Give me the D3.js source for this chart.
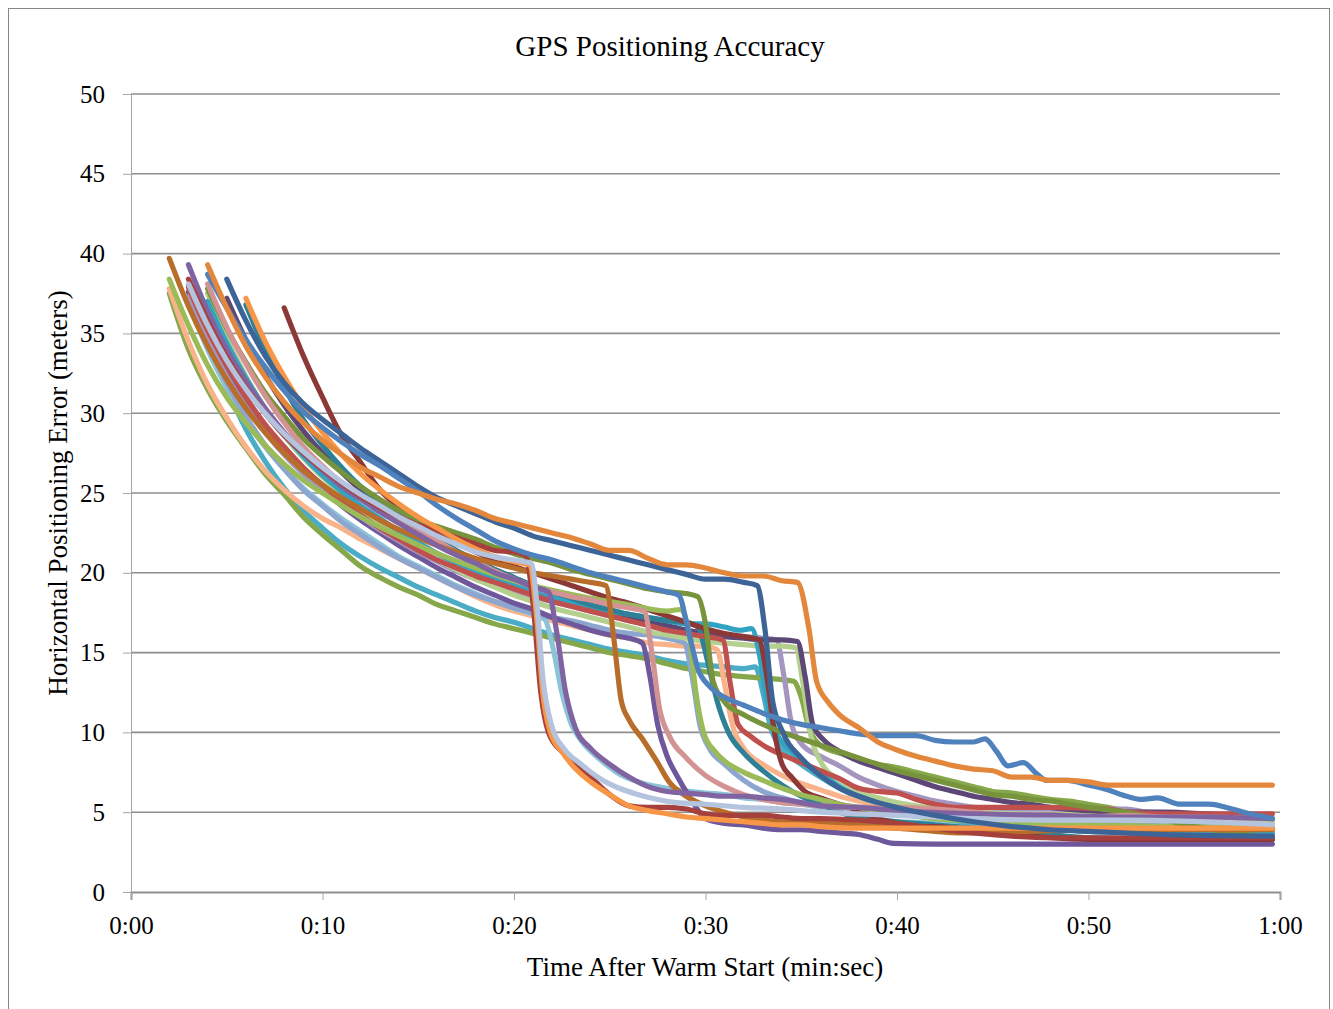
<!DOCTYPE html>
<html>
<head>
<meta charset="utf-8">
<script src="https://cdn.jsdelivr.net/npm/d3@7"></script>
<style>
  html, body { margin: 0; padding: 0; background: #ffffff; }
  svg { display: block; }
  text { font-family: "Liberation Serif", "Times New Roman", serif; fill: #000; }
</style>
</head>
<body>
<svg id="chart" width="1333" height="1009"></svg>
<script>
// Horizontal error (m) against seconds after a warm start, one array per test run: [seconds, meters]
const run01 = [[4,39.3],[5,36.6],[6,34.2],[7,32.3],[8,30.7],[9,29.4],[10,28.3],[11,27.4],[12,26.6],[13,26.0],[14,25.4],[15,25.0],[16,24.6],[17,24.3],[18,23.9],[19,23.4],[20,23.1],[21,22.8],[22,22.5],[23,22.2],[24,21.8],[25,21.4],[26,21.4],[27,20.9],[28,20.5],[29,20.5],[30,20.3],[31,20.0],[32,19.8],[33,19.8],[34,19.5],[34.8,19.4],[35.4,16.5],[35.8,13.2],[36.4,11.9],[37,11.1],[38,10.3],[39,9.4],[40,8.9],[41,8.5],[42,8.2],[43,7.9],[44,7.7],[45,7.6],[46,7.2],[47,7.2],[48,7.0],[49,7.0],[50,6.9],[51,6.7],[52,6.7],[56,6.7],[59.6,6.7]];
const run02 = [[5,38.4],[6,35.8],[7,33.6],[8,31.9],[9,30.6],[10,29.6],[11,28.7],[12,27.8],[13,27.0],[14,26.2],[15,25.4],[16,24.7],[17,24.2],[18,23.7],[19,23.2],[20,22.8],[21,22.3],[22,22.0],[23,21.7],[24,21.4],[25,21.1],[26,20.8],[27,20.5],[28,20.2],[29,19.9],[30,19.6],[31,19.6],[32,19.4],[32.7,19.2],[33.1,16.5],[33.5,12.0],[34,10.1],[35,8.4],[36,7.3],[37,6.5],[38,6.0],[39,5.6],[40,5.3],[42,4.8],[44,4.4],[46,4.1],[48,3.9],[50,3.8],[54,3.6],[59.6,3.5]];
const run03 = [[4,38.7],[5,36.6],[6,34.6],[7,32.9],[8,31.4],[9,30.1],[10,29.1],[11,28.2],[12,27.4],[13,26.7],[14,25.9],[15,25.1],[16,24.2],[17,23.4],[18,22.7],[19,22.0],[20,21.5],[21,21.1],[22,20.8],[23,20.4],[24,20.0],[25,19.7],[26,19.4],[27,19.1],[28,18.8],[28.6,18.6],[29.1,16.4],[29.6,14.0],[30.2,12.9],[31,12.2],[32,11.7],[33,11.2],[34,10.8],[35,10.5],[36,10.3],[37,10.1],[38,9.9],[39,9.8],[40,9.8],[41,9.8],[42,9.5],[43,9.4],[44,9.4],[44.6,9.6],[45.2,8.8],[45.8,7.9],[46.6,8.1],[47.3,7.4],[47.8,7.0],[48.9,7.0],[50,6.7],[51,6.4],[52,6.0],[52.8,5.8],[53.6,5.9],[54.8,5.5],[56.3,5.5],[57.2,5.3],[58.1,5.0],[59.6,4.6]];
const run04 = [[4,37.8],[5,35.3],[6,33.2],[7,31.3],[8,29.8],[9,28.4],[10,27.3],[11,26.3],[12,25.4],[13,24.6],[14,23.9],[15,23.3],[16,22.9],[17,22.5],[18,22.1],[19,21.6],[20,21.2],[21,20.9],[22,20.6],[23,20.2],[24,19.9],[25,19.6],[26,19.3],[27,19.0],[28,18.8],[29,18.7],[29.6,18.5],[30,16.8],[30.4,13.2],[31,11.9],[32,11.1],[33,10.5],[34,10.0],[35,9.6],[36,9.2],[37,8.8],[38,8.4],[39,8.0],[40,7.6],[41,7.3],[42,7.0],[43,6.7],[44,6.4],[45,6.1],[46,6.0],[47,5.8],[48,5.7],[49,5.5],[50,5.3],[52,5.0],[54,4.5],[56,4.0],[59.6,3.4]];
const run05 = [[2,38.4],[3,35.5],[4,33.0],[5,31.0],[6,29.4],[7,28.0],[8,26.8],[9,25.8],[10,25.0],[12,23.5],[14,22.3],[16,21.2],[18,20.3],[20,19.5],[22,18.9],[24,18.4],[26,18.0],[28,17.6],[28.7,17.7],[29.1,16.5],[29.5,12.5],[29.9,10.0],[30.5,8.8],[31,8.2],[32,7.5],[33,7.0],[34,6.5],[35,6.1],[36,5.8],[37,5.5],[38,5.3],[40,4.9],[42,4.6],[45,4.4],[50,4.2],[55,4.1],[59.6,4.0]];
const run06 = [[2,37.5],[3,34.0],[4,31.5],[5,29.5],[6,27.8],[7,26.2],[8,24.9],[9,23.5],[10,22.4],[11,21.4],[12,20.4],[13,19.7],[14,19.1],[15,18.6],[16,18.0],[17,17.6],[18,17.2],[19,16.8],[20,16.5],[21,16.2],[22,15.9],[23,15.6],[24,15.3],[25,15.0],[26,14.8],[27,14.6],[28,14.3],[29,14.0],[30,13.8],[31,13.6],[32,13.5],[33,13.4],[34,13.3],[34.6,13.2],[35,12.2],[35.4,10.3],[36,9.2],[37,8.7],[38,8.3],[39,8.0],[40,7.8],[41,7.5],[42,7.2],[43,6.9],[44,6.6],[45,6.3],[46,6.2],[47,6.0],[48,5.8],[49,5.7],[50,5.5],[51,5.3],[52,5.1],[54,4.8],[56,4.6],[59.6,4.3]];
const run07 = [[6,37.2],[7,34.5],[8,32.3],[9,30.4],[10,28.8],[11,27.4],[12,26.2],[13,25.2],[14,24.3],[15,23.5],[16,22.8],[17,22.1],[18,21.5],[19,21.0],[20,20.7],[20.8,20.5],[21.2,17.0],[21.5,12.5],[21.9,10.0],[22.5,8.8],[23,8.0],[24,6.9],[25,6.1],[26,5.4],[27,5.1],[28,4.9],[29,4.7],[30,4.6],[31,4.5],[32,4.4],[33,4.3],[34,4.2],[35,4.2],[36,4.1],[38,4.0],[40,4.0],[45,4.0],[50,4.0],[55,4.0],[59.6,4.0]];
const run08 = [[3,38.4],[4,35.8],[5,33.5],[6,31.6],[7,30.0],[8,28.6],[9,27.5],[10,26.5],[11,25.6],[12,24.8],[13,24.1],[14,23.5],[15,23.0],[16,22.6],[17,22.2],[18,21.8],[19,21.4],[20,21.3],[20.6,21.1],[21.0,18.0],[21.4,12.5],[21.8,10.0],[22.5,8.8],[23,8.3],[24,7.2],[25,6.1],[26,5.4],[27,5.3],[28,5.3],[29,5.2],[30,4.9],[31,4.8],[32,4.8],[33,4.8],[34,4.7],[35,4.6],[36,4.6],[38,4.5],[40,4.3],[42,4.0],[44,3.7],[46,3.5],[48,3.4],[50,3.4],[55,3.4],[59.6,3.4]];
const run09 = [[3,38.1],[4,35.5],[5,33.3],[6,31.5],[7,30.0],[8,28.7],[9,27.6],[10,26.6],[11,25.7],[12,24.9],[13,24.2],[14,23.5],[15,22.9],[16,22.3],[17,21.8],[18,21.3],[19,21.0],[20,20.8],[20.9,20.6],[21.2,18.0],[21.5,13.5],[22,10.3],[22.6,9.0],[23.5,8.0],[24.5,7.1],[25.5,6.5],[26.5,6.1],[27.5,5.8],[28.5,5.6],[30,5.5],[32,5.3],[34,5.2],[36,5.0],[38,4.9],[40,4.8],[44,4.6],[48,4.5],[52,4.5],[56,4.4],[59.6,4.2]];
const run10 = [[3,37.0],[4,34.0],[5,31.6],[6,29.6],[7,27.9],[8,26.5],[9,25.3],[10,24.3],[11,23.4],[12,22.6],[13,21.8],[14,21.0],[15,20.4],[16,19.8],[17,19.2],[18,18.7],[19,18.2],[20,17.8],[21,17.4],[21.6,17.1],[22,15.5],[22.5,12.5],[23,10.5],[23.5,9.5],[24.5,8.3],[25.5,7.4],[26.5,6.9],[27.5,6.6],[28.5,6.4],[30,6.2],[31,6.1],[32,5.9],[33,5.8],[34,5.6],[35,5.5],[36,5.3],[37,5.0],[38,4.6],[39,4.4],[40,4.4],[42,4.3],[44,4.0],[46,3.9],[50,3.9],[55,3.9],[59.6,3.9]];
const run11 = [[3,39.3],[4,36.4],[5,34.0],[6,32.0],[7,30.3],[8,28.8],[9,27.5],[10,26.4],[11,25.4],[12,24.6],[13,23.8],[14,23.1],[15,22.4],[16,21.7],[17,21.1],[18,20.6],[19,20.0],[20,19.6],[21,19.1],[21.8,18.8],[22.2,16.5],[22.7,12.5],[23.2,10.3],[24,9.0],[25,8.0],[26,7.2],[27,6.6],[28,6.3],[29,6.2],[30,6.1],[31,6.0],[32,6.0],[33,5.9],[34,5.8],[35,5.6],[36,5.4],[38,5.3],[40,5.1],[44,4.9],[48,4.8],[52,4.7],[56,4.7],[59.6,4.6]];
const run12 = [[2,39.7],[3,36.7],[4,34.2],[5,32.1],[6,30.3],[7,28.8],[8,27.5],[9,26.4],[10,25.5],[11,24.7],[12,24.0],[13,23.3],[14,22.7],[15,22.2],[16,21.7],[17,21.3],[18,20.9],[19,20.6],[20,20.3],[21,20.0],[22,19.8],[23,19.6],[24,19.4],[24.8,19.2],[25.2,16.0],[25.6,12.0],[26,10.8],[26.7,9.6],[27.5,8.1],[28.1,6.9],[29,6.0],[30,5.4],[31,5.0],[32,4.7],[33,4.5],[34,4.4],[36,4.3],[38,4.2],[40,4.0],[42,3.8],[43.3,3.7],[45,3.7],[47,3.8],[50,3.9],[55,3.9],[59.6,3.9]];
const run13 = [[4,38.1],[5,35.4],[6,33.1],[7,31.1],[8,29.4],[9,27.9],[10,26.7],[11,25.6],[12,24.7],[13,24.0],[14,23.4],[15,22.7],[16,22.0],[17,21.3],[18,20.7],[19,20.1],[20,19.6],[21,19.1],[22,18.8],[23,18.5],[24,18.3],[25,18.0],[26,17.8],[26.8,17.6],[27.2,15.0],[27.6,11.5],[28.1,9.8],[29,8.4],[30,7.3],[31,6.6],[32,6.1],[33,5.8],[34,5.6],[35,5.5],[36,5.4],[38,5.3],[40,5.3],[42,5.2],[44,5.0],[46,4.8],[48,4.8],[50,4.7],[52,4.8],[54,4.7],[56,4.7],[59.6,4.6]];
const run14 = [[3,37.6],[4,35.0],[5,32.8],[6,30.8],[7,29.1],[8,27.6],[9,26.3],[10,25.2],[11,24.2],[12,23.3],[13,22.5],[14,21.7],[15,21.0],[16,20.3],[17,19.7],[18,19.1],[19,18.6],[20,18.1],[21,17.7],[22,17.2],[23,16.8],[24,16.4],[25,16.1],[26,15.9],[26.7,15.6],[27.1,13.5],[27.5,10.5],[28,8.5],[28.5,7.3],[29.2,5.9],[30,4.6],[31,4.3],[32,4.2],[33,4.0],[34,3.9],[35,3.9],[36,3.8],[37,3.7],[38,3.6],[39,3.3],[39.8,3.05],[42,3.0],[50,3.0],[59.6,3.0]];
const run15 = [[3,37.6],[4,34.5],[5,31.9],[6,29.8],[7,28.0],[8,26.5],[9,25.2],[10,24.2],[11,23.2],[12,22.4],[13,21.6],[14,20.9],[15,20.3],[16,19.7],[17,19.1],[18,18.6],[19,18.2],[20,17.8],[21,17.5],[22,17.2],[23,17.0],[24,16.7],[25,16.4],[26,16.2],[27,16.1],[28,15.9],[28.9,15.6],[29.3,13.5],[29.7,10.5],[30.2,9.0],[31,8.0],[32,7.0],[33,6.3],[34,5.9],[35,5.6],[36,5.4],[38,5.2],[40,5.0],[44,4.6],[48,4.4],[52,4.2],[56,4.1],[59.6,4.0]];
const run16 = [[6,36.8],[7,34.0],[8,31.6],[9,29.6],[10,28.0],[11,26.6],[12,25.4],[13,24.4],[14,23.6],[15,22.8],[16,22.1],[17,21.4],[18,20.8],[19,20.2],[20,19.7],[21,19.2],[22,18.8],[23,18.4],[24,18.0],[25,17.7],[26,17.4],[27,17.2],[28,17.0],[29,16.9],[29.6,16.6],[30.1,14.5],[30.6,12.0],[31.2,10.0],[32,8.7],[33,7.6],[34,6.7],[35,6.0],[36,5.5],[37,5.0],[38,4.7],[40,4.4],[42,4.2],[44,4.0],[46,3.8],[48,3.6],[50,3.4],[55,3.3],[59.6,3.3]];
const run17 = [[3,37.9],[4,35.2],[5,33.0],[6,31.0],[7,29.3],[8,27.9],[9,26.6],[10,25.5],[11,24.5],[12,23.6],[13,22.8],[14,22.1],[15,21.4],[16,20.8],[17,20.3],[18,19.8],[19,19.4],[20,19.0],[21,18.6],[22,18.2],[23,17.9],[24,17.6],[25,17.3],[26,17.0],[27,16.7],[28,16.4],[29,16.2],[30,16.0],[30.9,15.8],[31.3,13.0],[31.7,10.5],[32.3,9.8],[33,9.2],[34,8.6],[35,8.1],[36,7.6],[37,7.1],[38,6.5],[39,6.3],[40,6.2],[41,5.8],[42,5.5],[43,5.3],[45,5.3],[48,5.3],[51,5.2],[52,5.0],[54,4.9],[59.6,4.9]];
const run18 = [[2,37.8],[3,34.5],[4,31.8],[5,29.7],[6,27.9],[7,26.4],[8,25.2],[9,24.2],[10,23.4],[11,22.8],[12,22.1],[13,21.5],[14,20.9],[15,20.3],[16,19.7],[17,19.1],[18,18.5],[19,18.0],[20,17.6],[21,17.3],[22,17.0],[23,16.7],[24,16.4],[25,16.1],[26,15.9],[27,15.6],[28,15.5],[29,15.4],[30,15.4],[30.6,15.2],[31,13.0],[31.4,10.5],[32,9.0],[33,8.0],[34,7.3],[35,6.8],[36,6.4],[37,6.0],[38,5.7],[39,5.4],[40,5.3],[42,5.0],[44,4.9],[46,4.8],[48,4.7],[52,4.6],[56,4.5],[59.6,4.4]];
const run19 = [[3,38.0],[4,34.6],[5,31.6],[6,29.0],[7,27.0],[8,25.3],[9,23.9],[10,22.8],[11,21.8],[12,21.0],[13,20.3],[14,19.7],[15,19.1],[16,18.6],[17,18.1],[18,17.6],[19,17.2],[20,16.9],[21,16.5],[22,16.1],[23,15.8],[24,15.5],[25,15.2],[26,15.0],[27,14.8],[28,14.5],[29,14.3],[30,14.2],[31,14.1],[32,14.0],[32.6,14.1],[33,12.5],[33.4,10.3],[34,9.0],[35,8.0],[36,7.2],[37,6.5],[38,5.9],[39,5.4],[40,5.0],[42,4.6],[44,4.3],[46,4.1],[48,4.0],[52,3.9],[56,3.8],[59.6,3.7]];
const run20 = [[4,37.0],[5,34.4],[6,32.2],[7,30.3],[8,28.7],[9,27.3],[10,26.1],[11,25.1],[12,24.2],[13,23.4],[14,22.6],[15,21.9],[16,21.2],[17,20.6],[18,20.1],[19,19.6],[20,19.2],[21,18.8],[22,18.5],[23,18.2],[24,17.9],[25,17.6],[26,17.4],[27,17.2],[28,17.0],[29,16.8],[30,16.8],[31,16.6],[31.8,16.4],[32.4,16.5],[32.8,15.0],[33.2,12.0],[33.7,10.0],[34.5,8.8],[35.5,7.8],[36.3,7.2],[37,6.6],[38,6.0],[39,5.6],[40,5.3],[42,4.9],[44,4.5],[46,4.2],[48,4.0],[50,3.8],[54,3.7],[59.6,3.6]];
const run21 = [[8,36.6],[9,33.6],[10,31.0],[11,28.6],[12,26.9],[13,25.2],[14,24.1],[15,23.2],[16,22.5],[17,21.9],[18,21.3],[19,20.8],[20,20.4],[21,20.0],[22,19.6],[23,19.2],[24,18.8],[25,18.4],[26,18.1],[27,17.7],[28,17.3],[29,16.9],[30,16.5],[31,16.2],[32,16.0],[32.8,15.8],[33.2,13.5],[33.6,10.0],[34,8.0],[34.5,7.2],[35.2,6.3],[36,5.9],[37,5.5],[38,5.1],[39,4.6],[40,4.3],[41,4.1],[42,4.1],[43,4.0],[44,3.9],[46,3.6],[48,3.4],[50,3.3],[55,3.3],[59.6,3.3]];
const run22 = [[3,37.3],[4,34.6],[5,32.3],[6,30.4],[7,28.8],[8,27.4],[9,26.2],[10,25.2],[11,24.3],[12,23.5],[13,22.7],[14,22.0],[15,21.3],[16,20.7],[17,20.1],[18,19.6],[19,19.2],[20,18.8],[21,18.5],[22,18.2],[23,17.9],[24,17.6],[25,17.3],[26,17.0],[27,16.8],[28,16.6],[29,16.4],[30,16.2],[31,16.1],[32,16.0],[33,15.9],[33.7,15.8],[34.1,13.5],[34.5,10.5],[35,9.3],[36,8.5],[37,7.9],[38,7.2],[39,6.7],[40,6.3],[41,6.0],[42,5.7],[43,5.5],[44,5.3],[46,5.2],[48,5.2],[50,5.2],[52,5.2],[53,5.0],[55,4.9],[57,4.8],[58,4.6],[59.6,4.3]];
const run23 = [[4,37.5],[5,34.7],[6,32.3],[7,30.3],[8,28.6],[9,27.2],[10,26.0],[11,24.9],[12,23.9],[13,23.0],[14,22.2],[15,21.5],[16,20.8],[17,20.2],[18,19.6],[19,19.1],[20,18.6],[21,18.2],[22,17.8],[23,17.5],[24,17.2],[25,16.9],[26,16.6],[27,16.3],[28,16.1],[29,15.9],[30,15.7],[31,15.6],[32,15.5],[33,15.4],[34,15.4],[34.7,15.3],[35.1,13.0],[35.5,9.8],[36,8.2],[37,7.0],[38,6.3],[39,5.9],[40,5.6],[41,5.4],[42,5.2],[44,5.0],[46,4.9],[48,4.8],[50,4.9],[52,4.9],[55,4.9],[57,4.8],[59.6,4.3]];
const run24 = [[5,37.2],[6,34.6],[7,32.4],[8,30.5],[9,28.9],[10,27.5],[11,26.3],[12,25.2],[13,24.3],[14,23.4],[15,22.7],[16,22.0],[17,21.3],[18,20.7],[19,20.2],[20,19.7],[21,19.2],[22,18.8],[23,18.4],[24,18.0],[25,17.6],[26,17.3],[27,17.0],[28,16.7],[29,16.4],[30,16.2],[31,16.0],[32,15.9],[33,15.8],[34,15.8],[34.8,15.7],[35.2,13.5],[35.6,10.5],[36.2,9.5],[37,8.8],[38,8.2],[39,7.8],[40,7.4],[41,7.0],[42,6.6],[43,6.3],[44,6.0],[45,5.8],[46,5.6],[47,5.5],[48,5.3],[50,5.1],[52,5.0],[54,5.0],[56,4.9],[59.6,4.6]];

const runs = [run19, run06, run18, run10, run15, run14, run22, run23, run24, run20, run16, run17,
              run21, run05, run04, run13, run12, run11, run08, run07, run09, run02, run03, run01];
const runColors = ["#4BACC6", "#86A84A", "#F8B38A", "#8CC3D8", "#8DA6CF", "#6E579A", "#A596C0", "#B4CF8E",
                   "#5C4776", "#33A3C2", "#2E8096", "#C0504D", "#8C3836", "#9BBB59", "#77933C", "#D39392",
                   "#B86E2A", "#8064A2", "#A5403D", "#F79646", "#B4C3DE", "#3C6496", "#4F81BD", "#E3873D"];

const yTicks = [0, 5, 10, 15, 20, 25, 30, 35, 40, 45, 50];
const xTicks = [0, 10, 20, 30, 40, 50, 60];

const titleText = "GPS Positioning Accuracy";
const xTitle = "Time After Warm Start (min:sec)";
const yTitle = "Horizontal Positioning Error (meters)";

const svg = d3.select("#chart");
const plot = { left: 131, right: 1280, top: 94, bottom: 892 };

// outer chart frame
svg.append("rect")
  .attr("x", 8.5).attr("y", 8.5)
  .attr("width", 1321).attr("height", 1100)
  .attr("fill", "#fff").attr("stroke", "#868686").attr("stroke-width", 1);

const x = d3.scaleLinear().domain([0, 60]).range([plot.left, plot.right]);
const y = d3.scaleLinear().domain([0, 50]).range([plot.bottom, plot.top]);

const fmt = s => `${Math.floor(s / 60)}:${String(s % 60).padStart(2, "0")}`;

// horizontal gridlines
svg.append("g")
  .selectAll("line")
  .data(yTicks.filter(d => d > 0))
  .join("line")
  .attr("x1", plot.left).attr("x2", plot.right)
  .attr("y1", d => y(d)).attr("y2", d => y(d))
  .attr("stroke", "#8E8E8E").attr("stroke-width", 1.6);

// y axis
const yAxis = svg.append("g")
  .attr("transform", `translate(${plot.left},0)`)
  .call(d3.axisLeft(y).tickValues(yTicks).tickSize(8).tickPadding(18).tickFormat(d3.format("d")));
yAxis.select(".domain").attr("stroke", "#A6A6A6").attr("stroke-width", 1);
yAxis.selectAll(".tick line").attr("stroke", "#A6A6A6");
yAxis.selectAll(".tick text")
  .attr("font-family", "Liberation Serif").attr("font-size", 25).attr("fill", "#000");

// x axis
const xAxis = svg.append("g")
  .attr("transform", `translate(0,${plot.bottom})`)
  .call(d3.axisBottom(x).tickValues(xTicks).tickSize(8).tickPadding(16).tickFormat(fmt));
xAxis.select(".domain").attr("stroke", "#8E8E8E").attr("stroke-width", 2);
xAxis.selectAll(".tick line").attr("stroke", "#A6A6A6");
xAxis.selectAll(".tick text")
  .attr("font-family", "Liberation Serif").attr("font-size", 25).attr("fill", "#000");

// one smoothed line per run
const line = d3.line()
  .x(d => x(d[0]))
  .y(d => y(d[1]))
  .curve(d3.curveMonotoneX);

svg.append("g")
  .selectAll("path")
  .data(runs)
  .join("path")
  .attr("d", line)
  .attr("fill", "none")
  .attr("stroke", (d, i) => runColors[i])
  .attr("stroke-width", 5.2)
  .attr("stroke-linecap", "round")
  .attr("stroke-linejoin", "round");

// titles
svg.append("text")
  .attr("x", 670).attr("y", 56)
  .attr("text-anchor", "middle")
  .attr("font-size", 29)
  .text(titleText);

svg.append("text")
  .attr("x", 705).attr("y", 976)
  .attr("text-anchor", "middle")
  .attr("font-size", 27)
  .text(xTitle);

svg.append("text")
  .attr("transform", "translate(67,493) rotate(-90)")
  .attr("text-anchor", "middle")
  .attr("font-size", 27)
  .text(yTitle);
</script>
</body>
</html>
